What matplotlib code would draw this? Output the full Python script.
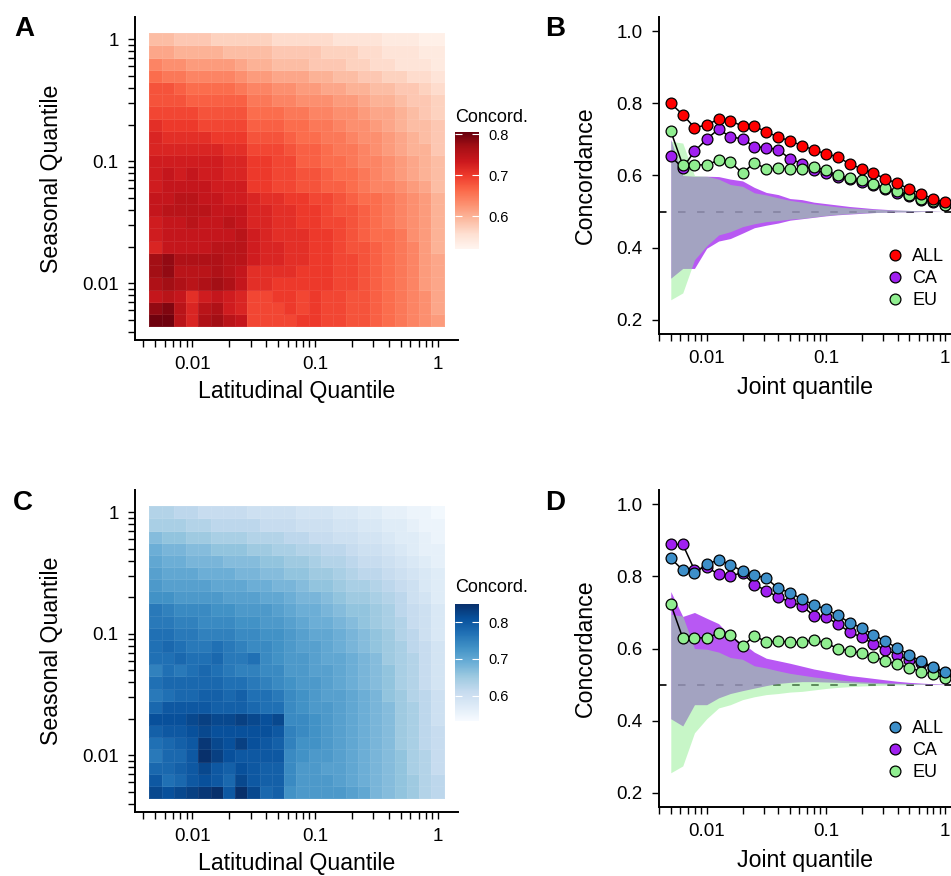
import numpy as np
import matplotlib
matplotlib.use('Agg')
import matplotlib.pyplot as plt
from matplotlib.ticker import LogLocator, FuncFormatter, NullFormatter, FixedLocator

plt.rcParams['font.family'] = ['Liberation Sans', 'DejaVu Sans']
plt.rcParams['lines.scale_dashes'] = False

# quantile bins, shared by both heatmap axes and the joint quantile axis
quantiles = [0.005, 0.0063, 0.0079, 0.01, 0.0126, 0.0158, 0.02, 0.0251, 0.0316, 0.0398,
             0.05, 0.0631, 0.0794, 0.1, 0.126, 0.158, 0.2, 0.251, 0.316, 0.398,
             0.5, 0.631, 0.794, 1.0]

# heatmap concordance (percent); rows go from seasonal quantile 1 (top) down to 0.005,
# columns from latitudinal quantile 0.005 (left) to 1 (right)
conc_red = [
    [59, 59, 58, 58, 58, 57, 57, 57, 57, 57, 56, 56, 56, 56, 56, 55, 55, 55, 55, 54, 54, 54, 53, 53],
    [61, 61, 60, 60, 60, 60, 59, 59, 59, 59, 58, 58, 58, 58, 57, 57, 57, 56, 56, 55, 55, 55, 54, 54],
    [64, 63, 63, 62, 62, 62, 62, 61, 60, 60, 59, 59, 59, 58, 58, 58, 57, 57, 56, 56, 55, 55, 55, 54],
    [66, 65, 65, 64, 64, 64, 64, 63, 62, 62, 61, 61, 61, 60, 60, 59, 59, 58, 58, 57, 57, 56, 56, 55],
    [68, 68, 67, 66, 66, 66, 66, 65, 64, 64, 63, 63, 62, 62, 61, 61, 60, 60, 59, 59, 58, 58, 57, 56],
    [68, 68, 68, 67, 67, 67, 67, 67, 65, 65, 64, 64, 63, 63, 63, 62, 62, 61, 60, 60, 59, 58, 58, 57],
    [69, 69, 69, 69, 68, 68, 68, 68, 66, 66, 66, 65, 65, 64, 64, 63, 63, 62, 61, 61, 60, 59, 58, 57],
    [71, 70, 70, 70, 69, 69, 69, 69, 67, 67, 67, 66, 66, 65, 65, 64, 63, 63, 62, 61, 60, 59, 59, 58],
    [72, 71, 71, 71, 71, 70, 70, 70, 68, 68, 68, 67, 66, 66, 65, 65, 64, 63, 63, 62, 61, 60, 59, 58],
    [72, 72, 72, 72, 72, 72, 71, 71, 69, 69, 69, 68, 67, 67, 66, 65, 65, 64, 63, 62, 61, 60, 60, 58],
    [73, 73, 73, 73, 73, 73, 72, 72, 70, 70, 69, 69, 67, 67, 66, 66, 65, 64, 64, 63, 62, 61, 60, 59],
    [73, 74, 73, 74, 73, 73, 72, 72, 70, 70, 69, 69, 68, 68, 67, 66, 66, 65, 64, 63, 62, 61, 60, 59],
    [73, 74, 74, 74, 74, 73, 73, 73, 70, 70, 69, 69, 68, 68, 67, 67, 66, 65, 64, 64, 63, 62, 61, 59],
    [74, 74, 75, 75, 74, 74, 73, 73, 72, 71, 71, 70, 70, 69, 69, 68, 67, 66, 66, 65, 64, 63, 62, 60],
    [74, 75, 75, 75, 75, 74, 74, 74, 72, 72, 71, 71, 70, 70, 69, 68, 68, 67, 66, 65, 64, 63, 62, 60],
    [73, 74, 74, 75, 74, 74, 75, 74, 72, 72, 71, 71, 70, 70, 69, 69, 68, 67, 66, 65, 64, 63, 62, 60],
    [73, 74, 74, 74, 74, 74, 74, 75, 73, 72, 71, 71, 71, 70, 70, 69, 68, 67, 66, 66, 65, 63, 62, 60],
    [72, 74, 74, 74, 74, 75, 75, 75, 73, 72, 72, 71, 71, 70, 70, 69, 68, 68, 67, 66, 65, 64, 62, 60],
    [77, 78, 76, 76, 76, 76, 75, 75, 73, 72, 72, 71, 71, 70, 70, 69, 69, 68, 67, 66, 65, 64, 62, 61],
    [77, 78, 75, 75, 75, 76, 75, 74, 71, 71, 71, 71, 70, 70, 70, 69, 69, 68, 67, 66, 65, 64, 62, 61],
    [76, 77, 76, 75, 76, 77, 76, 74, 71, 71, 70, 70, 70, 70, 70, 69, 69, 68, 67, 66, 65, 64, 62, 61],
    [74, 75, 74, 71, 73, 74, 73, 72, 69, 69, 70, 70, 69, 70, 69, 69, 68, 68, 67, 66, 65, 64, 63, 61],
    [78, 79, 75, 72, 75, 76, 73, 72, 69, 69, 69, 70, 69, 70, 69, 69, 68, 68, 67, 66, 65, 64, 63, 61],
    [80, 80, 75, 72, 76, 77, 75, 74, 69, 69, 69, 69, 70, 70, 69, 69, 68, 68, 67, 66, 65, 64, 63, 62],
]

conc_blue = [
    [63, 63, 62, 62, 61, 61, 61, 61, 60, 60, 60, 60, 59, 59, 59, 58, 58, 57, 57, 56, 56, 55, 55, 54],
    [64, 64, 64, 63, 63, 62, 62, 62, 62, 61, 61, 61, 60, 60, 60, 59, 59, 58, 58, 57, 57, 56, 55, 55],
    [67, 66, 66, 65, 65, 64, 64, 64, 63, 63, 63, 62, 62, 61, 61, 60, 60, 59, 59, 58, 57, 57, 56, 55],
    [69, 68, 68, 67, 67, 66, 66, 66, 65, 65, 64, 64, 63, 63, 62, 62, 61, 60, 60, 59, 58, 57, 56, 56],
    [70, 69, 69, 68, 68, 68, 67, 67, 67, 66, 66, 65, 65, 64, 63, 63, 62, 61, 61, 60, 59, 58, 57, 56],
    [71, 70, 70, 70, 69, 69, 69, 68, 68, 67, 67, 66, 66, 65, 65, 64, 63, 62, 62, 61, 60, 59, 58, 57],
    [72, 71, 71, 71, 71, 70, 70, 70, 69, 69, 68, 68, 67, 66, 66, 65, 64, 64, 63, 62, 61, 60, 58, 57],
    [73, 73, 72, 72, 72, 72, 71, 71, 71, 70, 70, 69, 68, 68, 67, 66, 65, 65, 64, 63, 62, 60, 59, 57],
    [76, 75, 74, 74, 74, 73, 73, 72, 72, 72, 71, 70, 69, 69, 68, 67, 66, 66, 65, 64, 62, 61, 60, 58],
    [76, 76, 75, 75, 74, 74, 74, 73, 73, 72, 72, 71, 70, 69, 69, 68, 67, 66, 65, 64, 63, 61, 60, 58],
    [77, 77, 76, 76, 75, 75, 75, 74, 74, 73, 73, 72, 71, 70, 70, 69, 68, 67, 66, 65, 63, 62, 60, 58],
    [77, 78, 77, 76, 76, 77, 76, 75, 74, 74, 73, 72, 71, 71, 70, 69, 68, 67, 66, 65, 64, 62, 61, 59],
    [77, 77, 78, 77, 77, 78, 76, 76, 77, 74, 73, 72, 72, 71, 70, 70, 69, 68, 67, 65, 64, 63, 61, 59],
    [75, 77, 76, 77, 78, 77, 76, 75, 75, 74, 74, 72, 72, 71, 71, 70, 69, 68, 67, 66, 64, 63, 61, 59],
    [77, 78, 78, 78, 78, 78, 77, 77, 76, 75, 74, 73, 72, 72, 71, 70, 69, 68, 67, 66, 64, 63, 61, 59],
    [76, 77, 78, 78, 79, 79, 78, 79, 77, 77, 76, 74, 73, 72, 71, 71, 70, 69, 68, 66, 65, 63, 62, 60],
    [78, 80, 80, 80, 80, 79, 79, 79, 78, 77, 77, 74, 73, 72, 72, 71, 70, 69, 68, 67, 65, 64, 62, 60],
    [81, 81, 81, 82, 83, 82, 82, 83, 82, 81, 82, 74, 74, 73, 72, 71, 70, 69, 68, 67, 65, 64, 62, 60],
    [79, 80, 80, 81, 82, 81, 81, 81, 81, 81, 80, 75, 74, 73, 72, 71, 70, 69, 68, 67, 65, 64, 62, 61],
    [77, 78, 79, 80, 84, 82, 81, 83, 81, 80, 79, 75, 73, 73, 72, 71, 70, 69, 68, 67, 65, 64, 62, 61],
    [76, 78, 78, 80, 85, 83, 81, 80, 80, 80, 80, 74, 73, 72, 72, 71, 70, 69, 68, 67, 66, 64, 63, 61],
    [78, 78, 79, 80, 82, 80, 79, 81, 80, 79, 79, 74, 72, 72, 71, 71, 70, 69, 68, 67, 66, 64, 63, 61],
    [80, 77, 78, 80, 81, 80, 78, 82, 80, 79, 79, 74, 72, 72, 72, 71, 70, 69, 68, 67, 66, 65, 63, 62],
    [82, 81, 82, 83, 84, 85, 80, 85, 82, 78, 79, 73, 72, 72, 72, 72, 71, 70, 68, 67, 66, 65, 63, 62],
]

# concordance by joint quantile
all_red = [0.800, 0.769, 0.733, 0.740, 0.757, 0.752, 0.737, 0.737, 0.721, 0.707, 0.696, 0.683,
           0.671, 0.660, 0.652, 0.632, 0.619, 0.606, 0.591, 0.578, 0.563, 0.549, 0.535, 0.526]
ca_red = [0.653, 0.621, 0.667, 0.701, 0.729, 0.707, 0.702, 0.680, 0.677, 0.672, 0.646, 0.633,
          0.614, 0.608, 0.597, 0.590, 0.582, 0.573, 0.563, 0.551, 0.542, 0.533, 0.527, 0.519]
eu_conc = [0.723, 0.629, 0.630, 0.629, 0.643, 0.638, 0.606, 0.636, 0.618, 0.620, 0.618, 0.617,
           0.624, 0.615, 0.600, 0.593, 0.587, 0.577, 0.566, 0.556, 0.547, 0.536, 0.528, 0.518]
all_blue = [0.850, 0.818, 0.809, 0.834, 0.846, 0.833, 0.814, 0.804, 0.795, 0.767, 0.755, 0.737,
            0.721, 0.709, 0.692, 0.672, 0.657, 0.638, 0.620, 0.601, 0.583, 0.564, 0.549, 0.534]
ca_blue = [0.889, 0.889, 0.818, 0.826, 0.806, 0.802, 0.810, 0.777, 0.761, 0.742, 0.730, 0.718,
           0.691, 0.687, 0.668, 0.646, 0.631, 0.613, 0.597, 0.583, 0.567, 0.560, 0.547, 0.532]

# null ranges (shaded)
eu_null_hi = [0.695, 0.690, 0.600, 0.598, 0.590, 0.575, 0.570, 0.552, 0.546, 0.538, 0.531, 0.526,
              0.521, 0.517, 0.513, 0.510, 0.508, 0.506, 0.505, 0.504, 0.503, 0.502, 0.501, 0.500]
eu_null_lo = [0.255, 0.274, 0.366, 0.405, 0.435, 0.444, 0.458, 0.466, 0.472, 0.475, 0.479, 0.481,
              0.485, 0.489, 0.492, 0.494, 0.496, 0.497, 0.498, 0.499, 0.499, 0.500, 0.500, 0.500]
ca_null_hi_red = [0.700, 0.600, 0.598, 0.598, 0.597, 0.590, 0.585, 0.567, 0.553, 0.547, 0.536, 0.533,
                  0.526, 0.522, 0.518, 0.514, 0.511, 0.508, 0.506, 0.504, 0.503, 0.502, 0.501, 0.500]
ca_null_lo_red = [0.315, 0.342, 0.342, 0.398, 0.418, 0.425, 0.440, 0.455, 0.462, 0.468, 0.476, 0.480,
                  0.484, 0.488, 0.491, 0.493, 0.495, 0.497, 0.498, 0.499, 0.499, 0.500, 0.500, 0.500]
ca_null_hi_blue = [0.758, 0.689, 0.700, 0.684, 0.669, 0.634, 0.615, 0.590, 0.573, 0.566, 0.559, 0.551,
                   0.543, 0.537, 0.531, 0.525, 0.521, 0.517, 0.513, 0.509, 0.506, 0.504, 0.502, 0.501]
ca_null_lo_blue = [0.405, 0.385, 0.444, 0.444, 0.463, 0.475, 0.483, 0.490, 0.497, 0.503, 0.506, 0.508,
                   0.508, 0.507, 0.506, 0.505, 0.504, 0.503, 0.502, 0.502, 0.501, 0.501, 0.500, 0.500]

W, H = 951, 876
fig = plt.figure(figsize=(W / 100, H / 100), dpi=100)


def px_axes(left, top, right, bottom):
    return fig.add_axes([left / W, 1 - bottom / H, (right - left) / W, (bottom - top) / H])


def style_axes(ax):
    for s in ['top', 'right']:
        ax.spines[s].set_visible(False)
    for s in ['left', 'bottom']:
        ax.spines[s].set_linewidth(1.4)
    ax.tick_params(which='both', length=5.3, width=1.0, direction='out', labelsize=13.5, pad=6.5)
    ax.set_facecolor('none')


def log_axis(axis):
    axis.set_major_locator(LogLocator(base=10, numticks=10))
    axis.set_minor_locator(LogLocator(base=10, subs=np.arange(2, 10), numticks=20))
    axis.set_major_formatter(FuncFormatter(lambda v, p: '%g' % v))
    axis.set_minor_formatter(NullFormatter())


def heatmap(ax, cax, title_y, grid, cmap, vmin, vmax):
    q = np.array(quantiles)
    mids = np.sqrt(q[:-1] * q[1:])
    edges = np.concatenate([[q[0] ** 2 / mids[0]], mids, [q[-1] ** 2 / mids[-1]]])
    z = np.array(grid, dtype=float)[::-1] / 100
    mesh = ax.pcolormesh(edges, edges, z, cmap=cmap, vmin=vmin, vmax=vmax,
                         edgecolors=(1, 1, 1, 0.07), linewidth=0.4)
    ax.set_xscale('log')
    ax.set_yscale('log')
    ax.set_xlim(10 ** -2.467, 10 ** 0.167)
    ax.set_ylim(10 ** -2.465, 10 ** 0.183)
    style_axes(ax)
    log_axis(ax.xaxis)
    log_axis(ax.yaxis)
    ax.set_xlabel('Latitudinal Quantile', fontsize=16.7, labelpad=5)
    ax.set_ylabel('Seasonal Quantile', fontsize=16.7, labelpad=14)

    cb = fig.colorbar(mesh, cax=cax, ticks=[0.6, 0.7, 0.8])
    cb.outline.set_visible(False)
    cb.ax.tick_params(direction='in', color='white', length=5, width=0.8,
                      left=True, right=True, labelleft=False, labelright=True,
                      labelsize=10.5, pad=7)
    fig.text(455 / W, 1 - title_y / H, 'Concord.', fontsize=13, va='baseline', ha='left')


def concordance(ax, all_vals, all_color, ca_vals, ca_hi, ca_lo, legend_top):
    q = quantiles
    ax.set_xscale('log')
    ax.axhline(0.5, color='black', lw=1.2, ls=(0, (5.4, 8.3)), zorder=1)
    ax.fill_between(q, ca_lo, ca_hi, color='#A020F0', alpha=0.75, lw=0, zorder=2)
    ax.fill_between(q, eu_null_lo, eu_null_hi, color='#90EE90', alpha=0.5, lw=0, zorder=2.5)
    for vals in [all_vals, ca_vals, eu_conc]:
        ax.plot(q, vals, color='black', lw=1.1, zorder=3)
    pts = {}
    for name, vals, col, z in [('CA', ca_vals, '#A020F0', 4), ('EU', eu_conc, '#90EE90', 5),
                               ('ALL', all_vals, all_color, 6)]:
        pts[name], = ax.plot(q, vals, ls='none', marker='o', ms=7.8, mfc=col, mec='black',
                             mew=0.9, zorder=z, clip_on=False)
    ax.set_xlim(10 ** -2.40, 10 ** 0.05)
    ax.set_ylim(0.16, 1.04)
    style_axes(ax)
    log_axis(ax.xaxis)
    ax.yaxis.set_major_locator(FixedLocator([0.2, 0.4, 0.6, 0.8, 1.0]))
    ax.yaxis.set_major_formatter(FuncFormatter(lambda v, p: '%.1f' % v))
    ax.set_xlabel('Joint quantile', fontsize=16.7, labelpad=6)
    ax.set_ylabel('Concordance', fontsize=16.7, labelpad=14)
    ax.legend([pts['ALL'], pts['CA'], pts['EU']], ['ALL', 'CA', 'EU'],
              loc='upper left', bbox_to_anchor=(886 / W, 1 - legend_top / H),
              bbox_transform=fig.transFigure, frameon=False, fontsize=13,
              handlelength=1.0, handletextpad=0.45, labelspacing=0.28,
              borderpad=0, borderaxespad=0)


ax_a = px_axes(135, 17, 458, 340)
cax_a = px_axes(455, 132, 479, 249)
heatmap(ax_a, cax_a, 122, conc_red, 'Reds', 0.52, 0.805)

ax_c = px_axes(135, 490, 458, 812)
cax_c = px_axes(455, 604, 479, 721)
heatmap(ax_c, cax_c, 592, conc_blue, 'Blues', 0.532, 0.849)

ax_b = px_axes(659, 17, 951, 334)
concordance(ax_b, all_red, '#FF0000', ca_red, ca_null_hi_red, ca_null_lo_red, 248)

ax_d = px_axes(659, 490, 951, 807)
concordance(ax_d, all_blue, '#3D8FC9', ca_blue, ca_null_hi_blue, ca_null_lo_blue, 720)

for letter, x, y in [('A', 14, 36.5), ('B', 545, 36), ('C', 13, 510), ('D', 545, 510)]:
    fig.text(x / W, 1 - y / H, letter, fontsize=20, fontweight='bold', va='baseline', ha='left')

fig.savefig('out.png', dpi=100)
